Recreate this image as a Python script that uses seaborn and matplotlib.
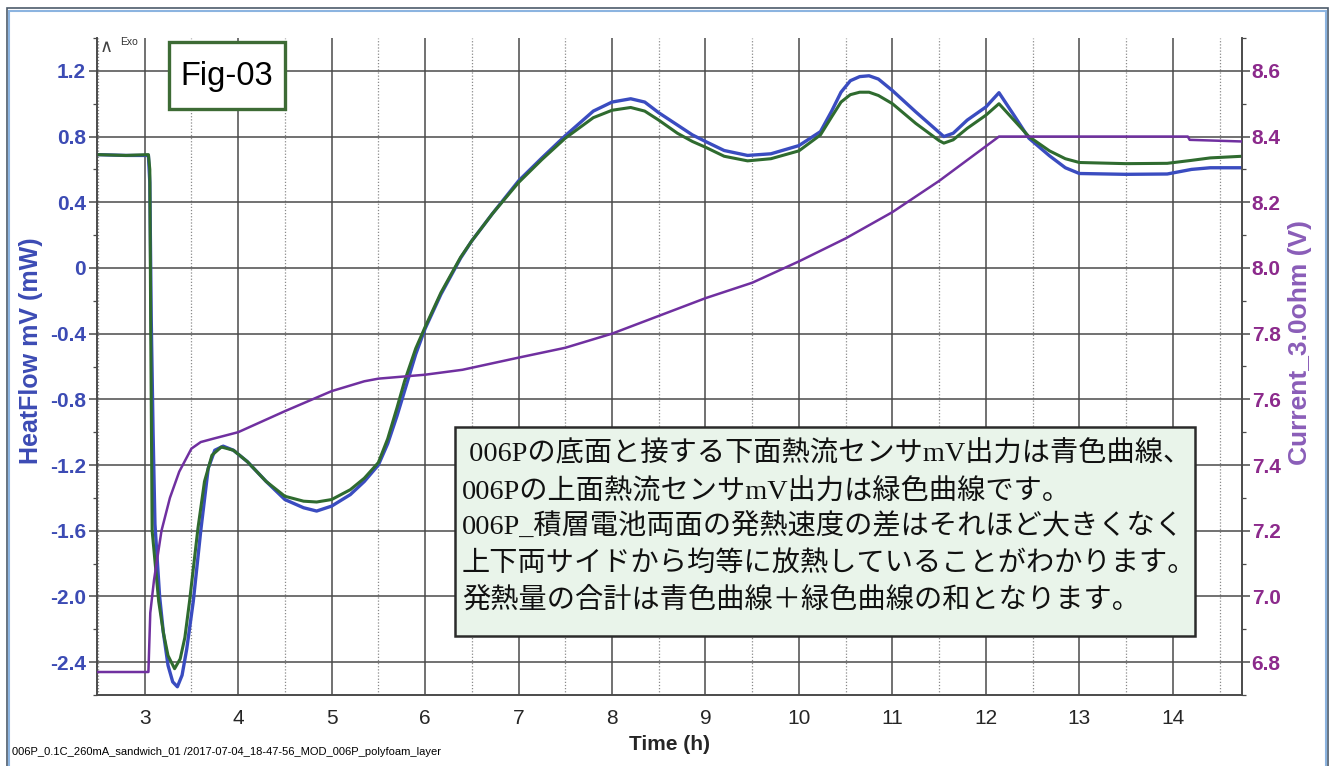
import numpy as np
import pandas as pd
import matplotlib
matplotlib.use("Agg")
import matplotlib.pyplot as plt
from matplotlib.patches import Rectangle
from matplotlib.ticker import MultipleLocator
import seaborn as sns

# =========================
# Datos
# =========================

# sensor inferior (azul)
t_blue = [2.49, 2.8, 3.04, 3.055, 3.07, 3.09, 3.11, 3.16, 3.2, 3.25, 3.3, 3.35, 3.4, 3.45,
          3.52, 3.6, 3.68, 3.75, 3.84, 3.95, 4.1, 4.3, 4.5, 4.7, 4.84, 5.0, 5.2, 5.35,
          5.5, 5.6, 5.7, 5.78, 5.9, 6.0, 6.17, 6.38, 6.5, 6.72, 7.0, 7.25, 7.5, 7.8,
          8.0, 8.2, 8.35, 8.5, 8.7, 8.86, 9.0, 9.2, 9.45, 9.7, 10.0, 10.23, 10.35, 10.45,
          10.55, 10.65, 10.75, 10.85, 11.0, 11.25, 11.5, 11.55, 11.65, 11.8, 12.0, 12.14,
          12.3, 12.46, 12.68, 12.85, 13.0, 13.5, 13.94, 14.2, 14.4, 14.74]
hf_blue = [0.69, 0.685, 0.685, 0.52, -0.3, -1.0, -1.56, -2.0, -2.22, -2.42, -2.52, -2.55, -2.48, -2.32,
           -2.03, -1.6, -1.22, -1.11, -1.085, -1.11, -1.18, -1.3, -1.41, -1.46, -1.48, -1.45, -1.38, -1.3,
           -1.2, -1.07, -0.9, -0.75, -0.525, -0.37, -0.16, 0.06, 0.165, 0.33, 0.53, 0.67, 0.805, 0.955,
           1.01, 1.03, 1.01, 0.945, 0.87, 0.81, 0.77, 0.715, 0.685, 0.695, 0.745, 0.83, 0.955, 1.07,
           1.14, 1.165, 1.17, 1.15, 1.08, 0.95, 0.825, 0.80, 0.82, 0.90, 0.98, 1.067,
           0.93, 0.79, 0.683, 0.61, 0.575, 0.57, 0.572, 0.60, 0.61, 0.61]

# sensor superior (verde)
t_green = [2.49, 2.8, 3.04, 3.055, 3.065, 3.08, 3.15, 3.2, 3.25, 3.32, 3.38, 3.43, 3.48, 3.57,
           3.64, 3.72, 3.82, 3.95, 4.1, 4.3, 4.5, 4.7, 4.84, 5.0, 5.2, 5.35, 5.5, 5.6,
           5.7, 5.78, 5.9, 6.0, 6.17, 6.38, 6.5, 6.72, 7.0, 7.25, 7.5, 7.8, 8.0, 8.2,
           8.35, 8.5, 8.7, 8.86, 9.0, 9.2, 9.45, 9.7, 10.0, 10.23, 10.35, 10.45, 10.55, 10.65,
           10.75, 10.85, 11.0, 11.25, 11.5, 11.55, 11.65, 11.8, 12.0, 12.14, 12.3, 12.46,
           12.68, 12.85, 13.0, 13.5, 13.94, 14.2, 14.4, 14.74]
hf_green = [0.69, 0.685, 0.69, 0.6, -0.4, -1.6, -2.03, -2.22, -2.36, -2.44, -2.38, -2.25, -2.03, -1.585,
            -1.3, -1.14, -1.09, -1.11, -1.18, -1.3, -1.39, -1.42, -1.425, -1.41, -1.35, -1.28, -1.185, -1.04,
            -0.85, -0.69, -0.49, -0.36, -0.15, 0.065, 0.165, 0.33, 0.52, 0.66, 0.79, 0.915, 0.96, 0.977,
            0.955, 0.9, 0.82, 0.77, 0.735, 0.68, 0.652, 0.665, 0.713, 0.81, 0.92, 1.01, 1.055, 1.07,
            1.07, 1.05, 1.0, 0.88, 0.775, 0.76, 0.78, 0.85, 0.93, 1.0, 0.9, 0.8,
            0.713, 0.665, 0.642, 0.635, 0.637, 0.655, 0.67, 0.68]

# tensión (eje derecho, morado)
t_volt = [2.49, 3.04, 3.06, 3.1, 3.18, 3.27, 3.37, 3.5, 3.6, 3.73, 4.0, 4.5, 5.0, 5.35,
          5.5, 6.0, 6.4, 7.0, 7.5, 8.0, 8.5, 9.0, 9.5, 10.0, 10.5, 11.0, 11.5, 12.14,
          14.16, 14.18, 14.74]
volt = [6.77, 6.77, 6.95, 7.05, 7.2, 7.3, 7.38, 7.45, 7.47, 7.48, 7.5, 7.564, 7.625, 7.655,
        7.663, 7.675, 7.69, 7.727, 7.757, 7.80, 7.854, 7.908, 7.955, 8.02, 8.09, 8.17, 8.265, 8.40,
        8.40, 8.39, 8.385]

x_ticks = [3, 4, 5, 6, 7, 8, 9, 10, 11, 12, 13, 14]
x_labels = ["3", "4", "5", "6", "7", "8", "9", "10", "11", "12", "13", "14"]
y_ticks = [-2.4, -2.0, -1.6, -1.2, -0.8, -0.4, 0.0, 0.4, 0.8, 1.2]
y_labels = ["-2.4", "-2.0", "-1.6", "-1.2", "-0.8", "-0.4", "0", "0.4", "0.8", "1.2"]
v_ticks = [6.8, 7.0, 7.2, 7.4, 7.6, 7.8, 8.0, 8.2, 8.4, 8.6]
v_labels = ["6.8", "7.0", "7.2", "7.4", "7.6", "7.8", "8.0", "8.2", "8.4", "8.6"]

note_lines = [
    " 006Pの底面と接する下面熱流センサmV出力は青色曲線、",
    "006Pの上面熱流センサmV出力は緑色曲線です。",
    "006P_積層電池両面の発熱速度の差はそれほど大きくなく",
    "上下両サイドから均等に放熱していることがわかります。",
    "発熱量の合計は青色曲線＋緑色曲線の和となります。",
]
footer = "006P_0.1C_260mA_sandwich_01 /2017-07-04_18-47-56_MOD_006P_polyfoam_layer"

BLUE = "#3a4cc0"
GREEN = "#2f6b2f"
PURPLE = "#7030a0"
BLUE_TXT = "#3c4bb4"
PURPLE_TXT = "#8c2a8c"
PURPLE_LBL = "#8a5db8"
GRID = "#4a4a4a"

# =========================
# Figura
# =========================

sns.set_style("white")
plt.rcParams['font.family'] = ['Liberation Sans', 'Noto Sans CJK JP', 'DejaVu Sans']

fig = plt.figure(figsize=(13.32, 7.66), dpi=100)
ax = fig.add_axes([97 / 1332, 1 - 695 / 766, 1145 / 1332, 657 / 766])
ax2 = ax.twinx()

sns.lineplot(x=t_blue, y=hf_blue, ax=ax, color=BLUE, lw=2.4, estimator=None, sort=False, zorder=4)
sns.lineplot(x=t_green, y=hf_green, ax=ax, color=GREEN, lw=2.2, estimator=None, sort=False, zorder=5)
sns.lineplot(x=t_volt, y=volt, ax=ax2, color=PURPLE, lw=1.8, estimator=None, sort=False, zorder=4)

ax.set_xlim(2.49, 14.74)
ax.set_ylim(-2.6, 1.4)
ax2.set_ylim(6.7, 8.7)

ax.set_xticks(x_ticks)
ax.set_xticklabels(x_labels, fontsize=15)
ax.xaxis.set_minor_locator(MultipleLocator(0.5))
ax.set_yticks(y_ticks)
ax.set_yticklabels(y_labels, fontsize=15, fontweight='bold', color=BLUE_TXT)
ax.yaxis.set_minor_locator(MultipleLocator(0.2))
ax2.set_yticks(v_ticks)
ax2.set_yticklabels(v_labels, fontsize=15, fontweight='bold', color=PURPLE_TXT)
ax2.yaxis.set_minor_locator(MultipleLocator(0.1))

ax.tick_params(axis='both', which='major', direction='out', length=6, width=1.1, color=GRID)
ax.tick_params(axis='both', which='minor', direction='out', length=3, width=0.9, color=GRID)
ax.tick_params(axis='y', pad=2)
ax.tick_params(axis='x', pad=4)
ax2.tick_params(axis='y', which='major', direction='out', length=6, width=1.1, color=GRID, pad=1)
ax2.tick_params(axis='y', which='minor', direction='out', length=3, width=0.9, color=GRID)

ax.grid(which='major', color=GRID, lw=1.1)
ax.grid(which='minor', axis='x', color='#8a8a8a', lw=0.9, ls=(0, (1, 1.5)))
ax.set_axisbelow(True)
ax2.grid(False)

for a in (ax, ax2):
    a.spines['top'].set_visible(False)
    for s in ('left', 'right', 'bottom'):
        a.spines[s].set_color(GRID)
        a.spines[s].set_linewidth(1.2)

ax.set_xlabel("Time (h)", fontsize=15, fontweight='bold', va='center')
ax.xaxis.set_label_coords(0.5, -0.076)
ax.set_ylabel("HeatFlow mV (mW)", fontsize=18, fontweight='bold', color=BLUE_TXT, va='center')
ax.yaxis.set_label_coords(-0.0576, 0.524)
ax2.set_ylabel("Current_3.0ohm (V)", fontsize=19, fontweight='bold', color=PURPLE_LBL,
               va='center', rotation=90)
ax2.yaxis.set_label_coords(1.0507, 0.537)

# marca Exo
ax2.text(0.0085, 0.986, "∧", transform=ax2.transAxes, fontsize=13, color='#444',
         ha='center', va='center', family=['DejaVu Sans'])
ax2.text(0.0200, 0.994, "Exo", transform=ax2.transAxes, fontsize=7.5, color='#333',
         ha='left', va='center')

# recuadro Fig-03
ax2.add_patch(Rectangle((0.0629, 0.892), 0.1013, 0.102, transform=ax2.transAxes,
                        facecolor='white', edgecolor='#3d6b35', lw=2.4, zorder=10))
ax2.text(0.1135, 0.941, "Fig-03", transform=ax2.transAxes, fontsize=23.5, color='black',
         ha='center', va='center', zorder=11)

# recuadro de notas
ax2.add_patch(Rectangle((0.3127, 0.0898), 0.6463, 0.318, transform=ax2.transAxes,
                        facecolor='#e9f4ea', edgecolor='#2b2b2b', lw=1.8, zorder=10))
line_y = [0.3660, 0.3105, 0.2550, 0.1995, 0.1440]
for txt, yy in zip(note_lines, line_y):
    ax2.text(0.3188, yy, txt, transform=ax2.transAxes, fontsize=20.3, color='#111',
             ha='left', va='center', zorder=11,
             family=['Liberation Serif', 'Noto Sans CJK JP'])

# pie de figura y marco
fig.text(12 / 1332, 1 - 752 / 766, footer, fontsize=8, color='black', ha='left', va='center')
fig.patches.append(Rectangle((6.5 / 1332, -0.05), 1321 / 1332, 1.05 - 8.5 / 766,
                             transform=fig.transFigure, fill=False, edgecolor='#4d5b6b', lw=1.2))
fig.patches.append(Rectangle((8.5 / 1332, -0.05), 1317 / 1332, 1.05 - 10.5 / 766,
                             transform=fig.transFigure, fill=False, edgecolor='#8cb4e0', lw=1.5))

fig.savefig("out.png", dpi=100)
